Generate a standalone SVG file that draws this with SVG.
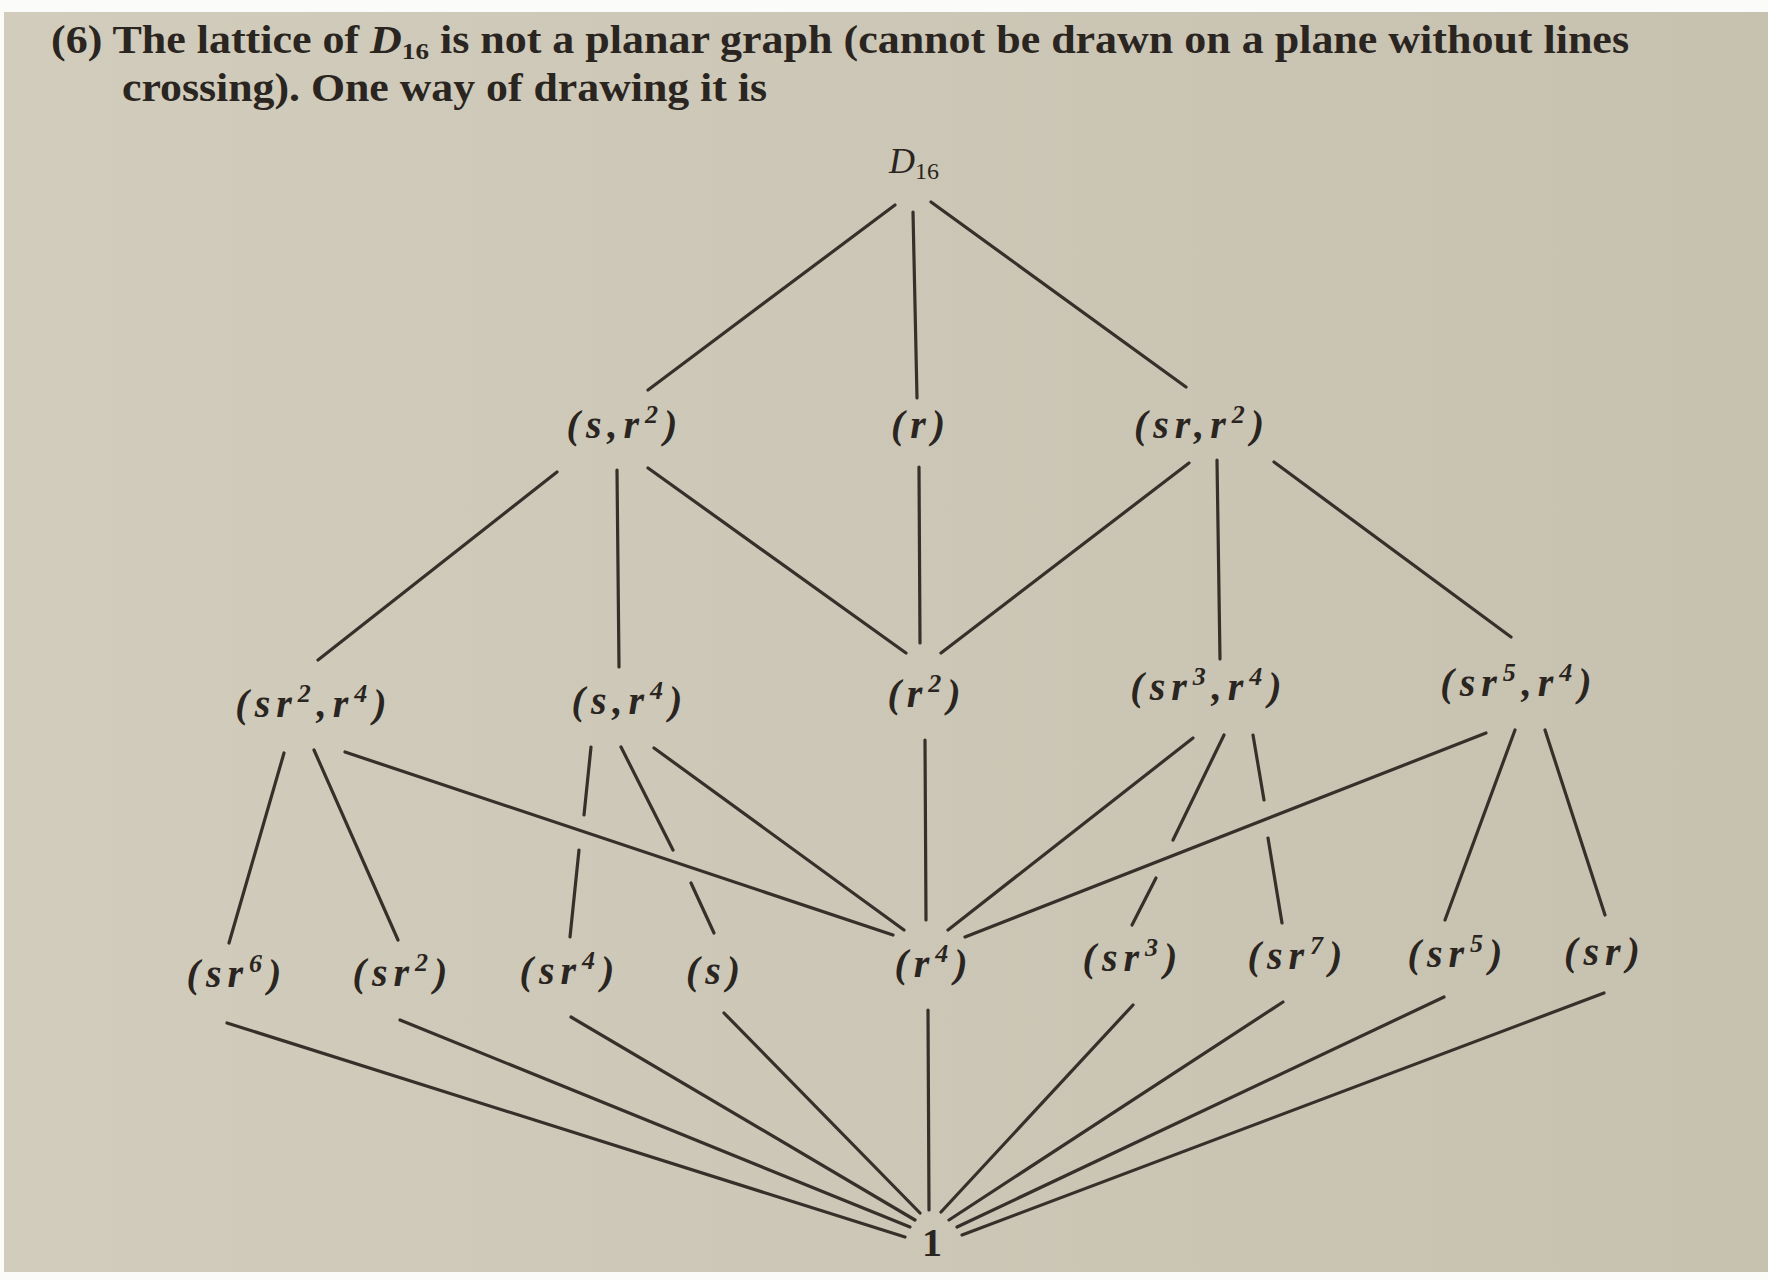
<svg xmlns="http://www.w3.org/2000/svg" width="1768" height="1280" viewBox="0 0 1768 1280">
<defs>
<linearGradient id="bg" x1="0" x2="1" y1="0" y2="0">
<stop offset="0" stop-color="#d1ccbc"/>
<stop offset="1" stop-color="#c7c1b0"/>
</linearGradient>
<style>
.hdr{font-family:"Liberation Serif",serif;font-size:39px;fill:#2a2520;font-weight:bold}
.lbl{font-family:"Liberation Serif",serif;font-style:italic;font-weight:bold;font-size:40px;fill:#2a2520;letter-spacing:6px;text-anchor:middle}
.sup{font-size:26px}
.edges line{stroke:#36302a;stroke-width:3.2;stroke-linecap:round}
</style>
</defs>
<rect x="0" y="0" width="1768" height="1280" fill="#fbfbf9"/>
<rect x="4" y="12" width="1764" height="1260" fill="url(#bg)"/>

<g id="header">
<text class="hdr" x="51" y="53" textLength="1578" lengthAdjust="spacingAndGlyphs">(6) The lattice of <tspan style="font-style:italic">D</tspan><tspan style="font-size:24px" dy="6">16</tspan><tspan dy="-6"> is not a planar graph (cannot be drawn on a plane without lines</tspan></text>
<text class="hdr" x="122" y="101" textLength="645" lengthAdjust="spacingAndGlyphs">crossing). One way of drawing it is</text>
</g>

<g class="edges" id="connectors">
<line x1="895" y1="205" x2="648" y2="390"/>
<line x1="913" y1="212" x2="917" y2="398"/>
<line x1="931" y1="202" x2="1186" y2="387"/>
<line x1="557" y1="472" x2="318" y2="660"/>
<line x1="617" y1="470" x2="619" y2="667"/>
<line x1="648" y1="468" x2="906" y2="653"/>
<line x1="919" y1="467" x2="920" y2="643"/>
<line x1="1189" y1="463" x2="941" y2="653"/>
<line x1="1217" y1="460" x2="1220" y2="659"/>
<line x1="1274" y1="462" x2="1511" y2="637"/>
<line x1="284" y1="753" x2="229" y2="943"/>
<line x1="314" y1="750" x2="398" y2="940"/>
<line x1="345" y1="752" x2="893" y2="935"/>
<line x1="591" y1="747" x2="584" y2="815"/>
<line x1="579" y1="850" x2="570" y2="937"/>
<line x1="621" y1="747" x2="673" y2="850"/>
<line x1="691" y1="883" x2="714" y2="933"/>
<line x1="654" y1="748" x2="904" y2="930"/>
<line x1="925" y1="740" x2="926" y2="920"/>
<line x1="1193" y1="738" x2="948" y2="930"/>
<line x1="1224" y1="735" x2="1173" y2="840"/>
<line x1="1156" y1="878" x2="1132" y2="925"/>
<line x1="1253" y1="735" x2="1264" y2="800"/>
<line x1="1268" y1="838" x2="1282" y2="923"/>
<line x1="1486" y1="733" x2="965" y2="937"/>
<line x1="1515" y1="730" x2="1445" y2="920"/>
<line x1="1545" y1="730" x2="1605" y2="915"/>
<line x1="227" y1="1023" x2="905" y2="1237"/>
<line x1="400" y1="1020" x2="910" y2="1227"/>
<line x1="571" y1="1017" x2="915" y2="1220"/>
<line x1="724" y1="1013" x2="920" y2="1213"/>
<line x1="928" y1="1010" x2="929" y2="1210"/>
<line x1="1133" y1="1005" x2="941" y2="1212"/>
<line x1="1283" y1="1002" x2="949" y2="1220"/>
<line x1="1444" y1="997" x2="957" y2="1227"/>
<line x1="1604" y1="993" x2="962" y2="1235"/>
</g>

<g id="n-D16"><text class="lbl" x="914" y="173" style="font-size:36px;letter-spacing:0;font-weight:normal">D<tspan style="font-size:24px;font-style:normal" dy="6">16</tspan></text></g>

<g id="n-s-r2"><text class="lbl" x="625" y="438">(s,r<tspan class="sup" dy="-15">2</tspan><tspan dy="15">)</tspan></text></g>
<g id="n-r"><text class="lbl" x="921" y="438">(r)</text></g>
<g id="n-sr-r2"><text class="lbl" x="1202" y="438">(sr,r<tspan class="sup" dy="-15">2</tspan><tspan dy="15">)</tspan></text></g>

<g id="n-sr2-r4"><text class="lbl" x="314" y="717">(sr<tspan class="sup" dy="-15">2</tspan><tspan dy="15">,r</tspan><tspan class="sup" dy="-15">4</tspan><tspan dy="15">)</tspan></text></g>
<g id="n-s-r4"><text class="lbl" x="630" y="714">(s,r<tspan class="sup" dy="-15">4</tspan><tspan dy="15">)</tspan></text></g>
<g id="n-r2"><text class="lbl" x="927" y="707">(r<tspan class="sup" dy="-15">2</tspan><tspan dy="15">)</tspan></text></g>
<g id="n-sr3-r4"><text class="lbl" x="1209" y="700">(sr<tspan class="sup" dy="-15">3</tspan><tspan dy="15">,r</tspan><tspan class="sup" dy="-15">4</tspan><tspan dy="15">)</tspan></text></g>
<g id="n-sr5-r4"><text class="lbl" x="1519" y="696">(sr<tspan class="sup" dy="-15">5</tspan><tspan dy="15">,r</tspan><tspan class="sup" dy="-15">4</tspan><tspan dy="15">)</tspan></text></g>

<g id="n-sr6"><text class="lbl" x="237" y="987">(sr<tspan class="sup" dy="-15">6</tspan><tspan dy="15">)</tspan></text></g>
<g id="n-sr2"><text class="lbl" x="403" y="986">(sr<tspan class="sup" dy="-15">2</tspan><tspan dy="15">)</tspan></text></g>
<g id="n-sr4"><text class="lbl" x="570" y="984">(sr<tspan class="sup" dy="-15">4</tspan><tspan dy="15">)</tspan></text></g>
<g id="n-s"><text class="lbl" x="716" y="984">(s)</text></g>
<g id="n-r4"><text class="lbl" x="934" y="977">(r<tspan class="sup" dy="-15">4</tspan><tspan dy="15">)</tspan></text></g>
<g id="n-sr3"><text class="lbl" x="1133" y="971">(sr<tspan class="sup" dy="-15">3</tspan><tspan dy="15">)</tspan></text></g>
<g id="n-sr7"><text class="lbl" x="1298" y="969">(sr<tspan class="sup" dy="-15">7</tspan><tspan dy="15">)</tspan></text></g>
<g id="n-sr5"><text class="lbl" x="1458" y="967">(sr<tspan class="sup" dy="-15">5</tspan><tspan dy="15">)</tspan></text></g>
<g id="n-sr"><text class="lbl" x="1605" y="965">(sr)</text></g>

<g id="n-1"><text class="lbl" x="932" y="1256" style="font-size:40px;font-style:normal;letter-spacing:0">1</text></g>
</svg>
